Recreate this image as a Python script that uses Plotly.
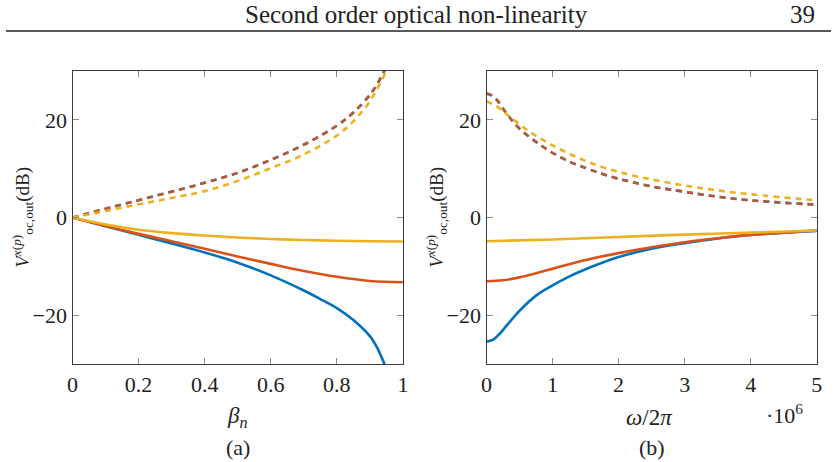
import plotly.graph_objects as go

# ---------------- data: panel (a), x = beta_n ----------------
beta_blue = [0, 0.1, 0.2, 0.3, 0.4, 0.5, 0.6, 0.7, 0.75, 0.8, 0.85, 0.9, 0.92, 0.944, 0.96]
a_blue_solid = [0, -1.8, -3.55, -5.3, -7.15, -9.25, -11.85, -14.95, -16.7, -18.55, -21.0, -24.3,
                -26.4, -30.0, -32.8]

beta = [0, 0.1, 0.2, 0.3, 0.4, 0.5, 0.6, 0.7, 0.8, 0.9, 1.0]
a_red_solid = [0, -1.75, -3.35, -4.85, -6.4, -8.0, -9.5, -10.95, -12.15, -13.0, -13.27]
a_yellow_solid = [0, -1.44, -2.5, -3.2, -3.7, -4.1, -4.4, -4.6, -4.75, -4.85, -4.9]

beta_dash = [0, 0.1, 0.2, 0.3, 0.4, 0.5, 0.6, 0.7, 0.8, 0.85, 0.9, 0.92, 0.94, 0.96]
a_red_dash = [0, 1.8, 3.55, 5.3, 7.1, 9.15, 11.8, 14.9, 18.8, 21.5, 25.1, 27.1, 29.5, 32.5]
a_blue_dash = a_red_dash
beta_ydash = [0, 0.1, 0.2, 0.3, 0.4, 0.5, 0.6, 0.7, 0.8, 0.85, 0.9, 0.95, 0.97]
a_yellow_dash = [0, 1.3, 2.7, 4.0, 5.4, 7.5, 10.1, 12.9, 16.8, 19.7, 23.8, 30.0, 32.8]

# ---------------- data: panel (b), x = omega/2pi ----------------
f_blue = [0, 0.1e6, 0.2e6, 0.3e6, 0.4e6, 0.5e6, 0.75e6, 1.0e6, 1.25e6, 1.5e6, 2.0e6, 2.5e6,
          3.0e6, 3.5e6, 4.0e6, 4.5e6, 5.0e6]
b_blue_solid = [-25.4, -25.0, -23.8, -22.2, -20.6, -19.1, -16.0, -13.9, -12.1, -10.6, -8.1, -6.4,
                -5.26, -4.3, -3.6, -3.1, -2.73]
f_red = [0, 0.25e6, 0.5e6, 0.75e6, 1.0e6, 1.5e6, 2.0e6, 2.5e6, 3.0e6, 3.5e6, 4.0e6, 4.5e6, 5.0e6]
b_red_solid = [-13.06, -12.86, -12.26, -11.41, -10.5, -8.7, -7.3, -6.1, -5.06, -4.24, -3.56, -3.1, -2.67]
f_yellow = [0, 1.0e6, 2.0e6, 3.0e6, 4.0e6, 5.0e6]
b_yellow_solid = [-4.85, -4.5, -4.0, -3.5, -3.1, -2.67]

f_dash = [0, 0.08e6, 0.17e6, 0.27e6, 0.385e6, 0.51e6, 0.66e6, 0.8e6, 0.93e6, 1.1e6, 1.27e6, 1.43e6,
          1.6e6, 1.77e6, 1.94e6, 2.1e6, 2.28e6, 2.45e6, 2.62e6, 2.8e6, 3.17e6, 3.67e6, 4.22e6,
          4.94e6, 5.0e6]
b_red_dash = [25.4, 25.0, 23.9, 21.9, 19.9, 18.05, 16.4, 15.0, 13.8, 12.5, 11.35, 10.5,
              9.65, 8.85, 8.15, 7.6, 7.0, 6.5, 6.05, 5.7, 4.9, 3.97, 3.28, 2.67, 2.62]
b_blue_dash = b_red_dash
f_ydash = [0, 0.15e6, 0.33e6, 0.61e6, 0.91e6, 1.23e6, 1.555e6, 1.88e6, 2.22e6, 2.57e6, 3.12e6,
           3.64e6, 4.19e6, 4.91e6, 5.0e6]
b_yellow_dash = [23.8, 22.8, 20.9, 17.97, 15.45, 13.2, 11.3, 9.8, 8.6, 7.6, 6.3, 5.3, 4.5, 3.6, 3.5]

# ticks
a_xtickvals = [0, 0.2, 0.4, 0.6, 0.8, 1.0]
a_xticktext = ["0", "0.2", "0.4", "0.6", "0.8", "1"]
b_xtickvals = [0, 1e6, 2e6, 3e6, 4e6, 5e6]
b_xticktext = ["0", "1", "2", "3", "4", "5"]
ytickvals = [-20, 0, 20]
yticktext = ["\u221220", "0", "20"]

BLUE = "#0072BD"
RED = "#D95319"
YELLOW = "#EDB120"
W = 2.6
DASH = "6px,5px"

fig = go.Figure()

def add(x, y, color, dash, xa, ya, opacity=1.0):
    fig.add_trace(go.Scatter(x=x, y=y, mode="lines", xaxis=xa, yaxis=ya,
                             line=dict(color=color, width=W, dash=dash, shape="spline", smoothing=1.0),
                             opacity=opacity, showlegend=False, hoverinfo="skip"))

# panel a
add(beta_blue, a_blue_solid, BLUE, "solid", "x", "y")
add(beta, a_red_solid, RED, "solid", "x", "y")
add(beta, a_yellow_solid, YELLOW, "solid", "x", "y")
add(beta_dash, a_blue_dash, BLUE, DASH, "x", "y")
add(beta_dash, a_red_dash, RED, DASH, "x", "y", 0.85)
add(beta_ydash, a_yellow_dash, YELLOW, DASH, "x", "y")
# panel b
add(f_blue, b_blue_solid, BLUE, "solid", "x2", "y2")
add(f_red, b_red_solid, RED, "solid", "x2", "y2")
add(f_yellow, b_yellow_solid, YELLOW, "solid", "x2", "y2")
add(f_dash, b_blue_dash, BLUE, DASH, "x2", "y2")
add(f_dash, b_red_dash, RED, DASH, "x2", "y2", 0.85)
add(f_ydash, b_yellow_dash, YELLOW, DASH, "x2", "y2")

FW, FH = 837, 462
def px(x):
    return x / FW
def py(y):
    return (FH - y) / FH

SERIF = "Liberation Serif"
TICKFONT = dict(family=SERIF, size=22, color="#222")
axis_common = dict(showline=True, linecolor="#3a3a3a", linewidth=1.2, mirror="ticks",
                   ticks="inside", ticklen=6, tickcolor="#8a8a8a", tickwidth=1,
                   showgrid=False, zeroline=False, tickfont=TICKFONT)

fig.update_layout(
    width=FW, height=FH, margin=dict(l=0, r=0, t=0, b=0),
    paper_bgcolor="white", plot_bgcolor="white",
    font=dict(family=SERIF),
    xaxis=dict(domain=[px(67.5), px(402.7)], range=[0, 1], tickvals=a_xtickvals,
               ticktext=a_xticktext, anchor="y", **axis_common),
    yaxis=dict(domain=[py(364), py(71)], range=[-30, 30], tickvals=ytickvals,
               ticktext=yticktext, anchor="x", **axis_common),
    xaxis2=dict(domain=[px(487.5), px(822.5)], range=[0, 5e6], tickvals=b_xtickvals,
                ticktext=b_xticktext, anchor="y2", **axis_common),
    yaxis2=dict(domain=[py(364), py(71)], range=[-30, 30], tickvals=ytickvals,
                ticktext=yticktext, anchor="x2", **axis_common),
)

ann = []
def text(x, y, s, size, angle=0, xanchor="center"):
    ann.append(dict(x=px(x), y=py(y), xref="paper", yref="paper", text=s, showarrow=False,
                    font=dict(family=SERIF, size=size, color="#222"), textangle=angle,
                    xanchor=xanchor, yanchor="middle"))

text(416, 15, "Second order optical non-linearity", 25)
text(823, 15, "39", 25, xanchor="right")
ytitle = "<i>V</i><sup><i>x</i>(<i>p</i>)</sup><sub>oc,out</sub>(dB)"
text(16, 217, ytitle, 19, angle=-90)
text(436, 217, ytitle, 19, angle=-90)
text(235, 417, "<i>β</i><sub><i>n</i></sub>", 23)
text(653, 417, "<i>ω</i>/2<i>π</i>", 23)
text(790, 414, "·10<sup>6</sup>", 22)
text(235, 447, "(a)", 22)
text(655, 447, "(b)", 22)
fig.update_layout(annotations=ann)

fig.add_shape(type="line", xref="paper", yref="paper", x0=0, x1=1, y0=py(31), y1=py(31),
              line=dict(color="#222", width=1.5))

fig.write_html("out.html")
